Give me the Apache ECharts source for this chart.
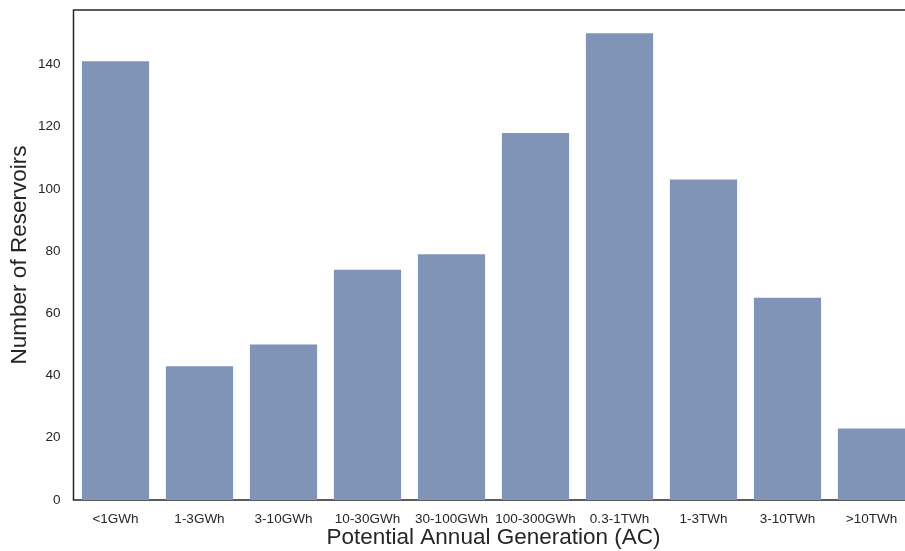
<!DOCTYPE html>
<html><head><meta charset="utf-8">
<script src="https://cdn.jsdelivr.net/npm/echarts@6/dist/echarts.min.js"></script>
<style>html,body{margin:0;padding:0;background:#fff}#c{width:905px;height:551px}</style>
</head><body><div id="c"></div>
<script>
const categories = ['<1GWh','1-3GWh','3-10GWh','10-30GWh','30-100GWh','100-300GWh','0.3-1TWh','1-3TWh','3-10TWh','>10TWh'];
const reservoirs = [141, 43, 50, 74, 79, 118, 150, 103, 65, 23];
const yTicks = [0, 20, 40, 60, 80, 100, 120, 140];

const chart = echarts.init(document.getElementById('c'), null, {renderer:'canvas'});
chart.setOption({
  animation:false,
  backgroundColor:'#ffffff',
  textStyle:{fontFamily:'Liberation Sans, Arial, sans-serif'},
  grid:{left:73.5, top:10, width:840, height:490, outerBoundsMode:'none', containLabel:false,
    show:true, borderColor:'#262626', borderWidth:1.5, backgroundColor:'transparent'},
  xAxis:{
    type:'category', data:categories,
    axisLine:{show:false}, axisTick:{show:false},
    axisLabel:{color:'#262626', fontSize:13.5, margin:12, interval:0},
    name:'Potential Annual Generation (AC)', nameLocation:'middle', nameGap:26, nameMoveOverlap:false,
    nameTextStyle:{color:'#262626', fontSize:22.5}
  },
  yAxis:{
    type:'value', min:0, max:157.5, interval:20,
    splitLine:{show:false}, axisLine:{show:false}, axisTick:{show:false},
    axisLabel:{color:'#262626', fontSize:13.5, margin:13, showMaxLabel:false,
      formatter:v=> yTicks.includes(v) ? String(v) : ''},
    name:'Number of Reservoirs', nameLocation:'middle', nameGap:42, nameMoveOverlap:false,
    nameTextStyle:{color:'#262626', fontSize:22.5}
  },
  series:[{
    type:'bar', data:reservoirs, barWidth:'80%',
    itemStyle:{color:'#8094b8'}
  }]
});
</script></body></html>
